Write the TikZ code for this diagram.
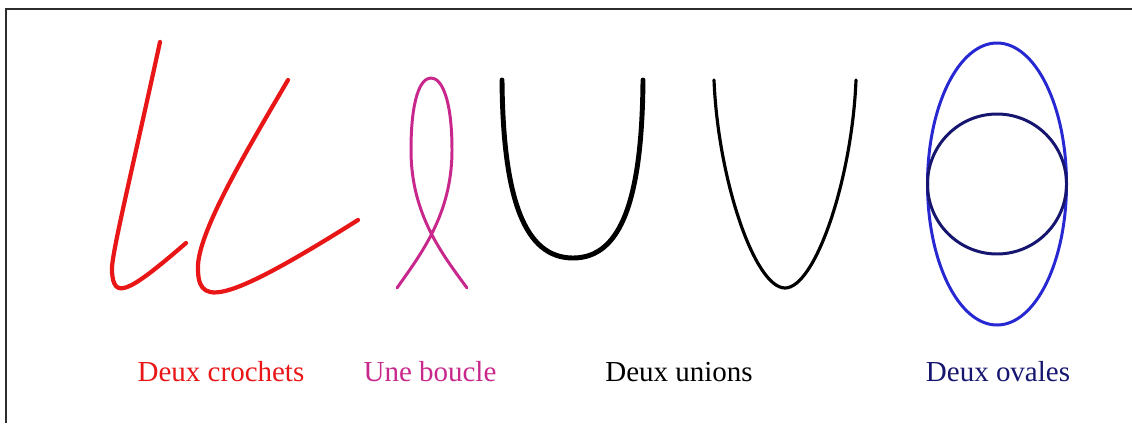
\documentclass[tikz,border=0pt]{standalone}
\usepackage{fontspec}
\setmainfont{Liberation Serif}
\definecolor{rougecrochet}{RGB}{232,22,22}
\definecolor{magentaboucle}{RGB}{200,40,140}
\definecolor{bleuovale}{RGB}{40,40,210}
\definecolor{marineovale}{RGB}{22,22,112}
\definecolor{cadre}{RGB}{45,45,45}
\begin{document}
\begin{tikzpicture}[x=0.02cm, y=-0.02cm,
        etiquette/.style={anchor=base, inner sep=0pt, font=\fontsize{16.5}{20}\selectfont},
        trait/.style={line cap=round, line join=round}]
        \useasboundingbox (0,0) rectangle (1132,423);

        % --- Cadre (coins haut et gauche seulement) ---
        \draw[cadre, line width=1.6pt] (6,423) -- (6,9) -- (1132,9);

        % --- Deux crochets ---
        \coordinate (C1a) at (160,42);
        \coordinate (C1b) at (186,243);
        \draw[trait, rougecrochet, line width=2.4pt] (C1a)
            .. controls (130,180) and (110,260) .. (112,272)
            .. controls (114,298) and (125,296) .. (C1b);
        \coordinate (C2a) at (288,80);
        \coordinate (C2b) at (358,220);
        \draw[trait, rougecrochet, line width=2.4pt] (C2a)
            .. controls (250,145) and (200,228) .. (198,265)
            .. controls (197,305) and (215,310) .. (C2b);

        % --- Une boucle ---
        \coordinate (Ba) at (397,288);
        \coordinate (Bb) at (467,288);
        \draw[trait, magentaboucle, line width=1.7pt] (Ba)
            .. controls (420,255) and (452,215) .. (452,150)
            .. controls (452,100) and (442,78) .. (431,78)
            .. controls (420,78) and (411,100) .. (411,150)
            .. controls (411,215) and (443,255) .. (Bb);

        % --- Deux unions ---
        \draw[trait, black, line width=2.8pt] (502,80)
            .. controls (503,200) and (525,258) .. (573,258)
            .. controls (621,258) and (642,200) .. (643,80);
        \draw[trait, black, line width=1.8pt] (714,80)
            .. controls (718,180) and (755,288) .. (785,288)
            .. controls (815,288) and (852,180) .. (856,80);

        % --- Deux ovales ---
        \coordinate (O) at (997,184);
        \draw[bleuovale, line width=1.7pt] (O) ellipse (69.5 and 141);
        \draw[marineovale, line width=1.7pt] (O) ellipse (69.5 and 70);

        % --- Légendes ---
        \node[etiquette, rougecrochet] (lcrochets) at (221,381) {Deux crochets};
        \node[etiquette, magentaboucle] (lboucle) at (430,381) {Une boucle};
        \node[etiquette, black] (lunions) at (679,381) {Deux unions};
        \node[etiquette, marineovale] (lovales) at (998,381) {Deux ovales};
\end{tikzpicture}
\end{document}
